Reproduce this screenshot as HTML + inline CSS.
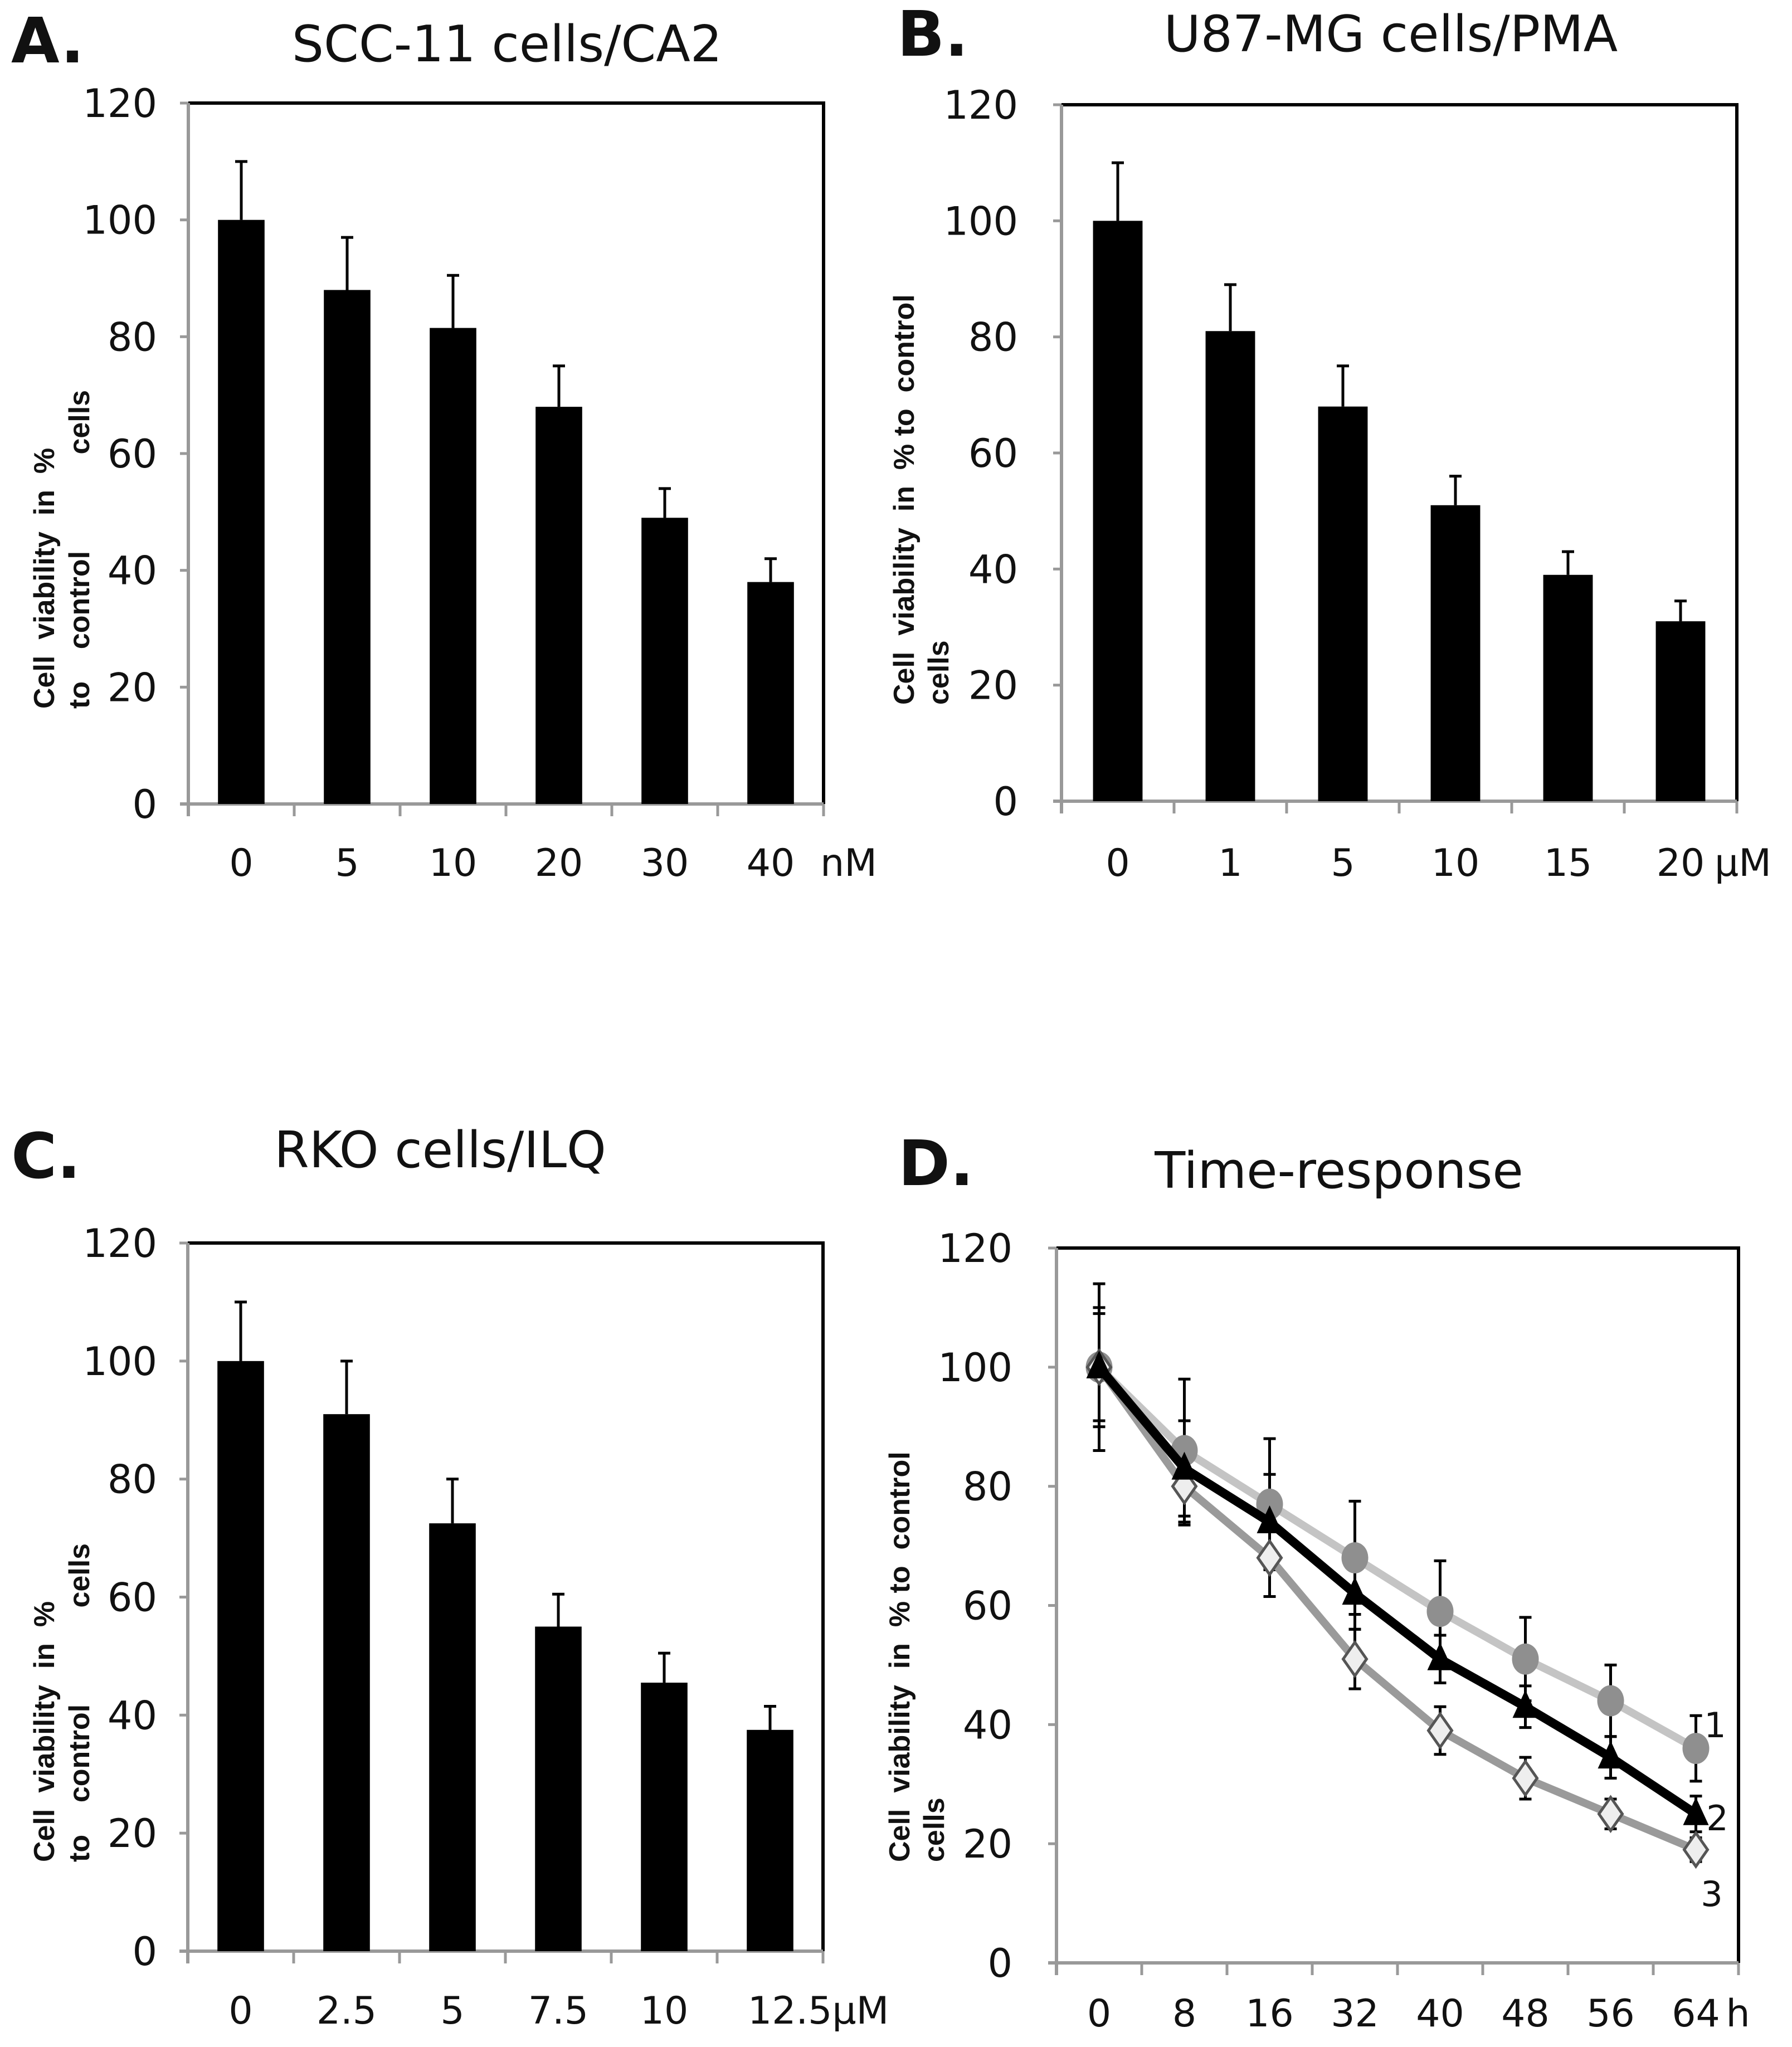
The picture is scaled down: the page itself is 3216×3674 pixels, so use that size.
<!DOCTYPE html>
<html><head><meta charset="utf-8">
<style>
html,body{margin:0;padding:0;background:#fff;}
svg{display:block;font-family:"DejaVu Sans","Liberation Sans",sans-serif;}
text{white-space:pre;}
</style></head>
<body>
<svg id="fig" width="3216" height="3674" viewBox="0 0 3216 3674"></svg>
<script>
const yTicks = [0,20,40,60,80,100,120];
const catsA = ["0","5","10","20","30","40"];
const valsA = [100,88,81.5,68,49,38];
const errA = [10,9,9,7,5,4];
const catsB = ["0","1","5","10","15","20"];
const valsB = [100,81,68,51,39,31];
const errB = [10,8,7,5,4,3.5];
const catsC = ["0","2.5","5","7.5","10","12.5μM"];
const valsC = [100,91,72.5,55,45.5,37.5];
const errC = [10,9,7.5,5.5,5,4];
const catsD = ["0","8","16","32","40","48","56","64"];
const s1 = [100,86,77,68,59,51,44,36];
const e1 = [10,12,11,9.5,8.5,7,6,5.5];
const s2 = [100,83,74,62,51,43,34.5,25];
const e2 = [14,8,8,6,4,3.5,3.5,3];
const s3 = [100,80,68,51,39,31,25,19];
const e3 = [9,6.5,6.5,5,4,3.5,2.5,2];

const NS="http://www.w3.org/2000/svg";
const svg=document.getElementById('fig');
function mk(tag,attrs,parent){const e=document.createElementNS(NS,tag);for(const k in attrs)e.setAttribute(k,attrs[k]);(parent||svg).appendChild(e);return e;}
function txt(s,x,y,size,anchor,weight,parent){const t=mk('text',{x:x,y:y,'font-size':size,'text-anchor':anchor||'middle','font-weight':weight||'normal',fill:'#111'},parent);t.textContent=s;return t;}

function panel(P){
  const g=mk('g',{});
  
  
  const yS=v=>P.bottom-(v/120)*(P.bottom-P.top);
  const n=P.cats.length, slot=(P.right-P.left)/n;
  const xS=i=>P.left+slot*(i+0.5);
  const fr=mk('path',{d:`M${P.left} ${P.top} H${P.right} V${P.bottom}`,stroke:'#000',fill:'none','stroke-width':6},g);
  
  
  const ya=mk('line',{x1:P.left,y1:P.top,x2:P.left,y2:P.bottom+22,stroke:'#999','stroke-width':6},g);
  
  
  const xa=mk('line',{x1:P.left-15,y1:P.bottom,x2:P.right,y2:P.bottom,stroke:'#999','stroke-width':6},g);
  
  
  yTicks.forEach(v=>{
    const tk=mk('line',{x1:P.left-15,y1:yS(v),x2:P.left,y2:yS(v),stroke:'#999','stroke-width':5},g);
    
    
    const tl=txt(String(v),P.ylx,yS(v)+25,70,'end','normal',g);
    
    
  });
  for(let i=0;i<=n;i++){
    const tk=mk('line',{x1:P.left+slot*i,y1:P.bottom,x2:P.left+slot*i,y2:P.bottom+22,stroke:'#999','stroke-width':5},g);
    
    
  }
  P.cats.forEach((c,i)=>{
    const anchor = P.lastStart && i===n-1 ? 'start':'middle';
    const x = P.lastStart && i===n-1 ? xS(i)-40 : xS(i);
    const tl=txt(c,x,P.xly,68,anchor,'normal',g);
    
    
  });
  if(P.unit){const u=txt(P.unit[0],P.unit[1],P.xly,68,'middle','normal',g);
    
    }
  const lt=txt(P.letter,P.lx,P.ly,112,'start','bold',g);
  
  
  const tt=txt(P.title,P.tx,P.ty,90,'middle','normal',g);
  
  
  P.ytitle.forEach(l=>{
    const t=mk('text',{x:0,y:0,'font-size':52,'font-weight':'bold','text-anchor':'start',fill:'#111','font-family':'"Liberation Sans",sans-serif',transform:`translate(${l[1]},${l[2]}) rotate(-90)`},g);
    t.textContent=l[0];
    
    
  });
  return {g,xS,yS,slot};
}

function bars(P,vals,errs){
  const {g,xS,yS,slot}=panel(P);
  const bw=slot*0.44;
  vals.forEach((v,i)=>{
    const eb=mk('path',{d:`M${xS(i)} ${yS(v)} V${yS(v+errs[i])} M${xS(i)-11} ${yS(v+errs[i])} H${xS(i)+11}`,stroke:'#000','stroke-width':5,fill:'none'},g);
    
    
    const r=mk('rect',{x:xS(i)-bw/2,y:yS(v),width:bw,height:yS(0)-yS(v),fill:'#000'},g);
    
    
  });
}

bars({name:'panel-a',letter:'A.',lx:20,ly:112,title:'SCC-11 cells/CA2',tx:910,ty:110,
  left:338,right:1478,top:185,bottom:1443,ylx:282,xly:1572,cats:catsA,unit:['nM',1523],
  ytitle:[['Cell  viability  in  %',97,1272],['to    control            cells',160,1272]]},valsA,errA);
bars({name:'panel-b',letter:'B.',lx:1610,ly:100,title:'U87-MG cells/PMA',tx:2496,ty:92,
  left:1905,right:3117,top:188,bottom:1438,ylx:1827,xly:1572,cats:catsB,unit:['μM',3128],
  ytitle:[['Cell  viability  in  % to  control',1640,1265],['cells',1702,1265]]},valsB,errB);
bars({name:'panel-c',letter:'C.',lx:20,ly:2114,title:'RKO cells/ILQ',tx:790,ty:2095,
  left:337,right:1477,top:2231,bottom:3502,ylx:282,xly:3632,cats:catsC,lastStart:true,
  ytitle:[['Cell  viability  in  %',97,3342],['to    control            cells',160,3342]]},valsC,errC);

(function(){
  const P={name:'panel-d',letter:'D.',lx:1612,ly:2127,title:'Time-response',tx:2403,ty:2132,
    left:1896,right:3120,top:2240,bottom:3523,ylx:1817,xly:3637,cats:catsD,unit:null,
    ytitle:[['Cell  viability  in  % to  control',1632,3342],['cells',1694,3342]]};
  const {g,xS,yS}=panel(P);
  const hl=txt('h',3119,3637,68,'middle','normal',g);
  
  
  const series=[[s1,e1,'#c4c4c4','circle','series-1'],[s3,e3,'#9a9a9a','diamond','series-3'],[s2,e2,'#000','triangle','series-2']];
  series.forEach(s=>{
    const [vals,errs,col,shape,nm]=s;
    vals.forEach((v,i)=>{
      const eb=mk('path',{d:`M${xS(i)} ${yS(v-errs[i])} V${yS(v+errs[i])} M${xS(i)-11} ${yS(v+errs[i])} H${xS(i)+11} M${xS(i)-11} ${yS(v-errs[i])} H${xS(i)+11}`,stroke:'#000','stroke-width':5,fill:'none'},g);
      
      
    });
  });
  series.forEach(s=>{
    const [vals,errs,col,shape,nm]=s;
    const pts=vals.map((v,i)=>xS(i)+','+yS(v)).join(' ');
    const ln=mk('polyline',{points:pts,fill:'none',stroke:col,'stroke-width':shape==='triangle'?16:14,'stroke-linejoin':'round'},g);
    
    
    vals.forEach((v,i)=>{
      const x=xS(i),y=yS(v);let m;
      if(shape==='circle') m=mk('ellipse',{cx:x,cy:y,rx:24,ry:28,fill:'#8f8f8f'},g);
      else if(shape==='diamond') m=mk('polygon',{points:`${x},${y-30} ${x+21},${y} ${x},${y+30} ${x-21},${y}`,fill:'#eee',stroke:'#555','stroke-width':5},g);
      else m=mk('polygon',{points:`${x},${y-30} ${x+23},${y+20} ${x-23},${y+20}`,fill:'#000'},g);
      
      
    });
  });
  [['1',3078,3118],['2',3082,3285],['3',3072,3421]].forEach(l=>{
    const t=txt(l[0],l[1],l[2],62,'middle','normal',g);
    
    
  });
})();
</script>
</body></html>
